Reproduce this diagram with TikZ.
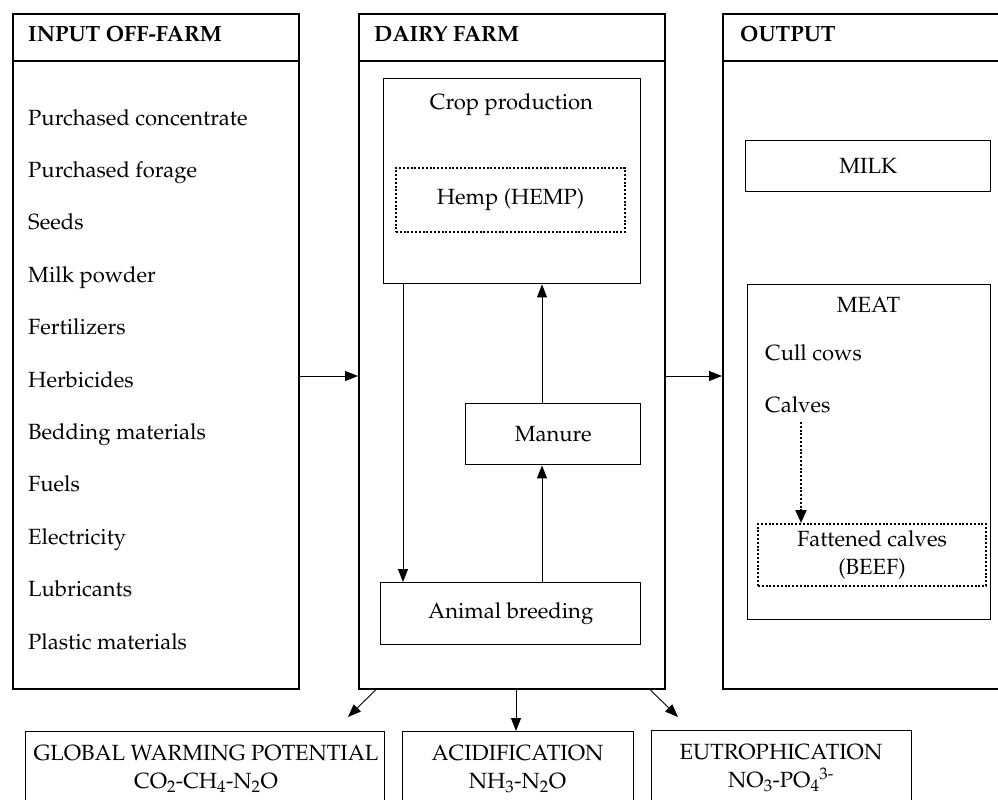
\documentclass[tikz,border=0pt]{standalone}
\usepackage[T1]{fontenc}
\usepackage{mathpazo}
\usetikzlibrary{arrows.meta,calc}
\begin{document}
\begin{tikzpicture}[x=1pt,y=-1pt,
  colbox/.style={draw,line width=1.6pt,inner sep=0,anchor=north west},
  ibox/.style={draw,line width=1.4pt,inner sep=0,anchor=north west},
  dbox/.style={draw,line width=2pt,dash pattern=on 2pt off 1.8pt,inner sep=0,anchor=north west},
  txt/.style={font=\fontsize{22}{27.5}\selectfont,inner sep=0},
  head/.style={font=\fontsize{22}{26}\selectfont\bfseries,inner sep=0,anchor=base west},
  arr/.style={line width=0.9pt,-{Triangle[length=13pt,width=10pt]}},
  darr/.style={line width=2pt,dash pattern=on 2pt off 1.8pt,-{Triangle[length=13pt,width=11pt]}},
  ]
\useasboundingbox (0,0) rectangle (998,800);
\clip (0,0) rectangle (998,800);
\fill[white] (0,0) rectangle (998,800);
% columns
\node[colbox,minimum width=286pt,minimum height=675pt] (inbox) at (12,13) {};
\node[colbox,minimum width=286pt,minimum height=47pt] (inhead) at (12,13) {};
\node[colbox,minimum width=306pt,minimum height=675pt] (midbox) at (358,13) {};
\node[colbox,minimum width=306pt,minimum height=47pt] (midhead) at (358,13) {};
\node[colbox,minimum width=300pt,minimum height=675pt] (outbox) at (722,13) {};
\node[colbox,minimum width=300pt,minimum height=47pt] (outhead) at (722,13) {};
\node[head] (tin) at (28,42) {INPUT OFF-FARM};
\node[head] (tmid) at (374,42) {DAIRY FARM};
\node[head] (tout) at (740,42) {OUTPUT};
% input list
\foreach \t [count=\i from 0] in {Purchased concentrate,Purchased forage,Seeds,Milk powder,Fertilizers,Herbicides,Bedding materials,Fuels,Electricity,Lubricants,Plastic materials}
  \node[txt,anchor=base west] (in\i) at (28,125+52.4*\i) {\t};
% dairy farm
\node[ibox,minimum width=257pt,minimum height=205pt] (crop) at (383,78) {};
\node[txt,anchor=base] (tcrop) at (511.5,109) {Crop production};
\node[dbox,minimum width=229pt,minimum height=64pt] (hemp) at (395,167) {};
\node[txt] (themp) at (hemp.center) {Hemp (HEMP)};
\node[ibox,minimum width=175pt,minimum height=61pt] (manure) at (465,403) {};
\node[txt] (tmanure) at (manure.center) {Manure};
\node[ibox,minimum width=260pt,minimum height=62pt] (animal) at (380,582) {};
\node[txt] (tanimal) at (animal.center) {Animal breeding};
% output
\node[ibox,minimum width=245pt,minimum height=51pt] (milk) at (745,140) {};
\node[txt] (tmilk) at (milk.center) {MILK};
\node[ibox,minimum width=243pt,minimum height=335pt] (meat) at (747,284) {};
\node[txt,anchor=base] (tmeat) at (868.5,312) {MEAT};
\node[txt,anchor=base west] (cull) at (765,360) {Cull cows};
\node[txt,anchor=base west] (calves) at (765,412) {Calves};
\node[dbox,minimum width=228pt,minimum height=62pt] (fatt) at (757,523) {};
\node[txt,align=center] (tfatt) at (fatt.center) {Fattened calves\\(BEEF)};
% impacts
\node[ibox,minimum width=359pt,minimum height=100pt] (gwp) at (25,731) {};
\node[txt,align=center] (tgwp) at (206,769) {GLOBAL WARMING POTENTIAL\\CO$_2$-CH$_4$-N$_2$O};
\node[ibox,minimum width=231pt,minimum height=100pt] (acid) at (402,731) {};
\node[txt,align=center] (tacid) at (517.5,769) {ACIDIFICATION\\NH$_3$-N$_2$O};
\node[ibox,minimum width=260pt,minimum height=100pt] (eut) at (651,730) {};
\node[txt,align=center] (teut) at (781,768) {EUTROPHICATION\\NO$_3$-PO$_4$\textsuperscript{3-}};
% connectors
\coordinate (c1) at (348,717);
\coordinate (c2) at (678,717);
\draw[arr] (inbox.east |- 0,376) -- (midbox.west |- 0,376);
\draw[arr] (midbox.east |- 0,376) -- (outbox.west |- 0,376);
\draw[arr] (crop.south -| 403,0) -- (animal.north -| 403,0);
\draw[arr] (manure.north -| 542,0) -- (crop.south -| 542,0);
\draw[arr] (animal.north -| 542,0) -- (manure.south -| 542,0);
\draw[arr] (midbox.south -| 376,0) -- (c1);
\draw[arr] (midbox.south -| 516,0) -- (acid.north -| 516,0);
\draw[arr] (midbox.south -| 650,0) -- (c2);
\draw[darr] (801,422) -- (fatt.north -| 801,0);
\end{tikzpicture}
\end{document}
